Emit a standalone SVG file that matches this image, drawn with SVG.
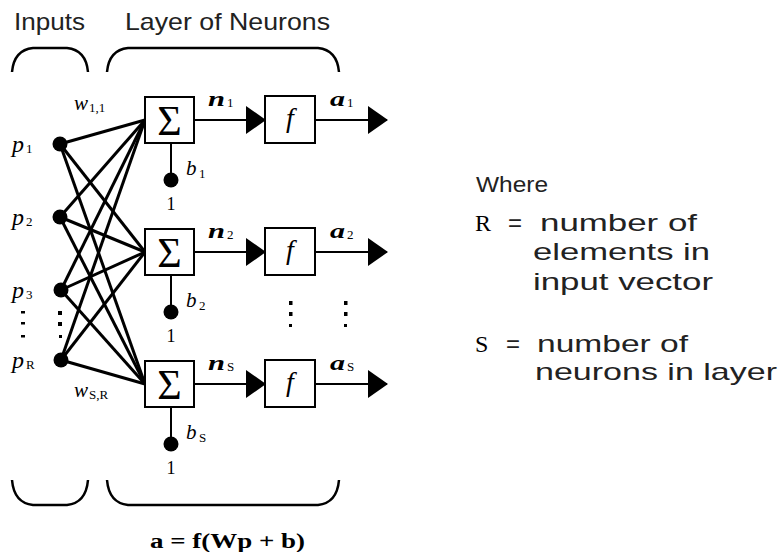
<svg xmlns="http://www.w3.org/2000/svg" width="782" height="552" viewBox="0 0 782 552">
<defs>
<marker id="arr" markerUnits="userSpaceOnUse" markerWidth="20" markerHeight="28" viewBox="0 0 20 28" refX="19" refY="14" orient="auto">
<path d="M0,0 L20,14 L0,28 Z" fill="#000"/>
</marker>
<style>
.box{fill:#fff;stroke:#000;stroke-width:2}
.w{stroke:#000;stroke-width:3;fill:none}
.ln{stroke:#000;stroke-width:2;fill:none}
.br{stroke:#000;stroke-width:2.5;fill:none}
.sans{font-family:"Liberation Sans",Arial,sans-serif;fill:#222}
.ser{font-family:"Liberation Serif","Times New Roman",serif;fill:#000}
.it{font-family:"Liberation Serif","Times New Roman",serif;font-style:italic;fill:#000}
.sub{font-family:"Liberation Serif","Times New Roman",serif;font-size:13px;fill:#000}
</style>
</defs>
<rect width="782" height="552" fill="#fff"/>

<g id="headings">
<text class="sans" x="14" y="30" font-size="24" textLength="71" lengthAdjust="spacingAndGlyphs">Inputs</text>
<text class="sans" x="125" y="30" font-size="24" textLength="205" lengthAdjust="spacingAndGlyphs">Layer of Neurons</text>
</g>

<g id="brackets">
<path class="br" d="M12,72 Q14,50 33,48 L67,48 Q86,50 88,72"/>
<path class="br" d="M107,72 Q109,50 128,48 L318,48 Q337,50 339,72"/>
<path class="br" d="M12,480 Q14,503 33,505 L67,505 Q86,503 88,480"/>
<path class="br" d="M107,480 Q109,503 128,505 L318,505 Q337,503 339,480"/>
</g>

<g id="connectors">
<line class="w" x1="60" y1="144" x2="145" y2="120"/>
<line class="w" x1="60" y1="144" x2="145" y2="252"/>
<line class="w" x1="60" y1="144" x2="145" y2="384"/>
<line class="w" x1="60" y1="217" x2="145" y2="120"/>
<line class="w" x1="60" y1="217" x2="145" y2="252"/>
<line class="w" x1="60" y1="217" x2="145" y2="384"/>
<line class="w" x1="61" y1="290" x2="145" y2="120"/>
<line class="w" x1="61" y1="290" x2="145" y2="252"/>
<line class="w" x1="61" y1="290" x2="145" y2="384"/>
<line class="w" x1="61" y1="360" x2="145" y2="120"/>
<line class="w" x1="61" y1="360" x2="145" y2="252"/>
<line class="w" x1="61" y1="360" x2="145" y2="384"/>
<line class="ln" x1="194" y1="120" x2="265" y2="120" marker-end="url(#arr)"/>
<line class="ln" x1="315" y1="120" x2="387" y2="120" marker-end="url(#arr)"/>
<line class="ln" x1="194" y1="252" x2="265" y2="252" marker-end="url(#arr)"/>
<line class="ln" x1="315" y1="252" x2="387" y2="252" marker-end="url(#arr)"/>
<line class="ln" x1="194" y1="384" x2="265" y2="384" marker-end="url(#arr)"/>
<line class="ln" x1="315" y1="384" x2="387" y2="384" marker-end="url(#arr)"/>
<line class="ln" x1="171" y1="143" x2="171" y2="180"/>
<line class="ln" x1="171" y1="276" x2="171" y2="312"/>
<line class="ln" x1="171" y1="408" x2="171" y2="444"/>
</g>

<g id="inputs">
<circle cx="60" cy="144" r="7.5" fill="#000"/>
<circle cx="60" cy="217" r="7.5" fill="#000"/>
<circle cx="61" cy="290" r="7.5" fill="#000"/>
<circle cx="61" cy="360" r="7.5" fill="#000"/>
<text class="it" x="12" y="152" font-size="24">p</text><text class="sub" x="26" y="153">1</text>
<text class="it" x="12" y="225" font-size="24">p</text><text class="sub" x="26" y="226">2</text>
<text class="it" x="12" y="298" font-size="24">p</text><text class="sub" x="26" y="299">3</text>
<text class="it" x="12" y="368" font-size="24">p</text><text class="sub" x="26" y="369">R</text>
<text class="it" x="74" y="110" font-size="21">w</text><text class="sub" x="89" y="112">1,1</text>
<text class="it" x="74" y="397" font-size="21">w</text><text class="sub" x="89" y="399">S,R</text>
<g fill="#000">
<rect x="21" y="311" width="4" height="2.5"/><rect x="21" y="322" width="4" height="2.5"/><rect x="21" y="335" width="4" height="2.5"/>
<rect x="58" y="311" width="4" height="4"/><rect x="58" y="322" width="4" height="4"/><rect x="59" y="335" width="3" height="3"/>
</g>
</g>

<g id="neuron1">
<rect class="box" x="145" y="97" width="49" height="46"/>
<text class="ser" x="169.5" y="135" font-size="42" text-anchor="middle">Σ</text>
<circle cx="171" cy="180" r="7.5" fill="#000"/>
<text class="it" x="186" y="175" font-size="21">b</text><text class="sub" x="199" y="178">1</text>
<text class="ser" x="171" y="210" font-size="18" text-anchor="middle">1</text>
<text class="it" x="208" y="106" font-size="21" font-weight="bold" textLength="17" lengthAdjust="spacingAndGlyphs">n</text><text class="sub" x="227" y="107">1</text>
<rect class="box" x="265" y="96" width="50" height="47"/>
<text class="it" x="290" y="127" font-size="28" text-anchor="middle">f</text>
<text class="it" x="330" y="106" font-size="21" font-weight="bold" textLength="15" lengthAdjust="spacingAndGlyphs">a</text><text class="sub" x="347" y="107">1</text>
</g>

<g id="neuron2">
<rect class="box" x="145" y="229" width="49" height="46"/>
<text class="ser" x="169.5" y="267" font-size="42" text-anchor="middle">Σ</text>
<circle cx="171" cy="312" r="7.5" fill="#000"/>
<text class="it" x="186" y="307" font-size="21">b</text><text class="sub" x="199" y="310">2</text>
<text class="ser" x="171" y="342" font-size="18" text-anchor="middle">1</text>
<text class="it" x="208" y="238" font-size="21" font-weight="bold" textLength="17" lengthAdjust="spacingAndGlyphs">n</text><text class="sub" x="227" y="239">2</text>
<rect class="box" x="265" y="228" width="50" height="47"/>
<text class="it" x="290" y="259" font-size="28" text-anchor="middle">f</text>
<text class="it" x="330" y="238" font-size="21" font-weight="bold" textLength="15" lengthAdjust="spacingAndGlyphs">a</text><text class="sub" x="347" y="239">2</text>
</g>

<g id="ellipsis-mid" fill="#000">
<rect x="289" y="301" width="3.5" height="4"/><rect x="289" y="312" width="3.5" height="4"/><rect x="289" y="324" width="3" height="3"/>
<rect x="344" y="301" width="3.5" height="4"/><rect x="344" y="312" width="3.5" height="4"/><rect x="344" y="324" width="3" height="3"/>
</g>

<g id="neuron3">
<rect class="box" x="145" y="361" width="49" height="46"/>
<text class="ser" x="169.5" y="399" font-size="42" text-anchor="middle">Σ</text>
<circle cx="171" cy="444" r="7.5" fill="#000"/>
<text class="it" x="186" y="439" font-size="21">b</text><text class="sub" x="199" y="442">S</text>
<text class="ser" x="171" y="474" font-size="18" text-anchor="middle">1</text>
<text class="it" x="208" y="370" font-size="21" font-weight="bold" textLength="17" lengthAdjust="spacingAndGlyphs">n</text><text class="sub" x="227" y="371">S</text>
<rect class="box" x="265" y="360" width="50" height="47"/>
<text class="it" x="290" y="391" font-size="28" text-anchor="middle">f</text>
<text class="it" x="330" y="370" font-size="21" font-weight="bold" textLength="15" lengthAdjust="spacingAndGlyphs">a</text><text class="sub" x="347" y="371">S</text>
</g>

<g id="formula">
<text class="ser" x="150" y="548" font-size="20" font-weight="bold" textLength="155" lengthAdjust="spacingAndGlyphs">a = f(Wp + b)</text>
</g>

<g id="legend">
<text class="sans" x="476" y="192" font-size="22" textLength="72" lengthAdjust="spacingAndGlyphs">Where</text>
<text class="ser" x="475" y="231" font-size="24">R</text>
<text class="sans" x="508" y="231" font-size="24">=</text>
<text class="sans" x="540" y="231" font-size="24" textLength="157" lengthAdjust="spacingAndGlyphs">number of</text>
<text class="sans" x="533" y="260" font-size="24" textLength="177" lengthAdjust="spacingAndGlyphs">elements in</text>
<text class="sans" x="533" y="290" font-size="24" textLength="180" lengthAdjust="spacingAndGlyphs">input vector</text>
<text class="ser" x="475" y="352" font-size="24">S</text>
<text class="sans" x="506" y="352" font-size="24">=</text>
<text class="sans" x="537" y="352" font-size="24" textLength="151" lengthAdjust="spacingAndGlyphs">number of</text>
<text class="sans" x="535" y="380" font-size="24" textLength="242" lengthAdjust="spacingAndGlyphs">neurons in layer</text>
</g>
</svg>
